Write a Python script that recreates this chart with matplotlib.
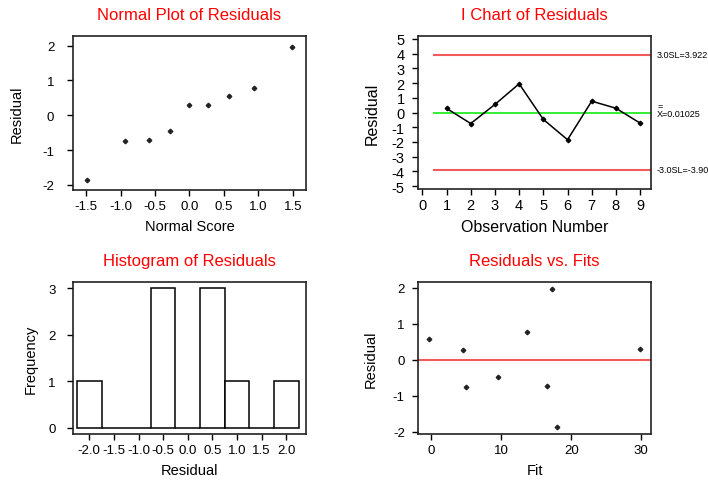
import matplotlib.pyplot as plt

plt.rcParams['font.family'] = ['Liberation Sans', 'DejaVu Sans']
plt.rcParams['axes.unicode_minus'] = False

# residuals by observation
obs = [1, 2, 3, 4, 5, 6, 7, 8, 9]
resid = [0.28, -0.75, 0.55, 1.95, -0.47, -1.85, 0.77, 0.29, -0.72]
# normal plot
normal_score = [-1.49, -0.93, -0.59, -0.28, 0.0, 0.27, 0.57, 0.93, 1.49]
sorted_resid = [-1.85, -0.73, -0.70, -0.45, 0.29, 0.29, 0.55, 0.77, 1.95]
# histogram
bin_mid = [-2.0, -1.5, -1.0, -0.5, 0.0, 0.5, 1.0, 1.5, 2.0]
freq = [1, 0, 0, 3, 0, 3, 1, 0, 1]
# residuals vs fits
fits = [-0.3, 4.6, 5.0, 9.5, 13.7, 16.5, 17.3, 17.9, 29.8]
fit_resid = [0.57, 0.28, -0.75, -0.47, 0.78, -0.72, 1.97, -1.87, 0.31]
# control limits
ucl = 3.922
center = 0.01025
lcl = -3.902

W, H = 708, 481
fig = plt.figure(figsize=(W / 100, H / 100), dpi=100)


def box(x0, y0, x1, y1):
    return [x0 / W, 1 - y1 / H, (x1 - x0) / W, (y1 - y0) / H]


def style(ax, title, xlabel, ylabel, ypad, ylab_x, lab_size=10.5, tick_size=9.5):
    ax.set_title(title, color='red', fontsize=12, pad=12)
    ax.set_xlabel(xlabel, fontsize=lab_size, labelpad=5)
    ax.set_ylabel(ylabel, fontsize=lab_size)
    ax.yaxis.set_label_coords(ylab_x, 0.5)
    ax.tick_params(direction='out', length=4.5, width=1, labelsize=tick_size)
    ax.tick_params(axis='x', pad=3)
    ax.tick_params(axis='y', pad=ypad)
    for s in ax.spines.values():
        s.set_linewidth(1.2)
        s.set_color('#222222')


dot = dict(marker='D', markersize=2.3, color='#222222', linestyle='none')
red = '#f05a5a'

# normal plot
ax1 = fig.add_axes(box(73, 37, 306, 191))
ax1.plot(normal_score, sorted_resid, **dot)
ax1.set_xlim(-1.69, 1.69)
ax1.set_ylim(-2.15, 2.28)
ax1.set_xticks([-1.5, -1.0, -0.5, 0.0, 0.5, 1.0, 1.5])
ax1.set_xticklabels(['-1.5', '-1.0', '-0.5', '0.0', '0.5', '1.0', '1.5'])
ax1.set_yticks([-2, -1, 0, 1, 2])
style(ax1, 'Normal Plot of Residuals', 'Normal Score', 'Residual', 9, -0.21)

# I chart
ax2 = fig.add_axes(box(418, 37, 651, 190))
ax2.hlines([ucl, lcl], 0.45, 9.45, color=red, linewidth=1.5)
ax2.hlines(center - 0.03, 0.45, 9.45, color='#22ee22', linewidth=1.3)
ax2.plot(obs, resid, color='black', linewidth=1.1, marker='D', markersize=2.3)
ax2.set_xlim(-0.18, 9.45)
ax2.set_ylim(-5.2, 5.2)
ax2.set_xticks(range(10))
ax2.set_yticks(range(-5, 6))
style(ax2, 'I Chart of Residuals', 'Observation Number', 'Residual', 5, -0.165,
      lab_size=11.5, tick_size=10.5)
ax2.tick_params(axis='x', pad=2)
ax2.text(9.7, ucl, '3.0SL=3.922', fontsize=6.5, va='center', clip_on=False)
ax2.text(9.7, center - 0.1, 'X=0.01025', fontsize=6.5, va='center', clip_on=False)
ax2.text(9.72, center + 0.45, '=', fontsize=6.5, va='center', clip_on=False)
ax2.text(9.7, lcl, '-3.0SL=-3.902', fontsize=6.5, va='center', clip_on=False)

# histogram
ax3 = fig.add_axes(box(73, 283, 306, 435))
ax3.bar(bin_mid, freq, width=0.5, color='white', edgecolor='black', linewidth=1.1)
ax3.set_xlim(-2.33, 2.4)
ax3.set_ylim(-0.14, 3.14)
ax3.set_xticks(bin_mid)
ax3.set_xticklabels(['-2.0', '-1.5', '-1.0', '-0.5', '0.0', '0.5', '1.0', '1.5', '2.0'])
ax3.set_yticks([0, 1, 2, 3])
style(ax3, 'Histogram of Residuals', 'Residual', 'Frequency', 8, -0.15)

# residuals vs fits
ax4 = fig.add_axes(box(418, 283, 651, 435))
ax4.axhline(0, color=red, linewidth=1.5)
ax4.plot(fits, fit_resid, **dot)
ax4.set_xlim(-1.9, 31.4)
ax4.set_ylim(-2.06, 2.16)
ax4.set_xticks([0, 10, 20, 30])
ax4.set_yticks([-2, -1, 0, 1, 2])
style(ax4, 'Residuals vs. Fits', 'Fit', 'Residual', 5, -0.172)

fig.savefig('out.png', dpi=100)
